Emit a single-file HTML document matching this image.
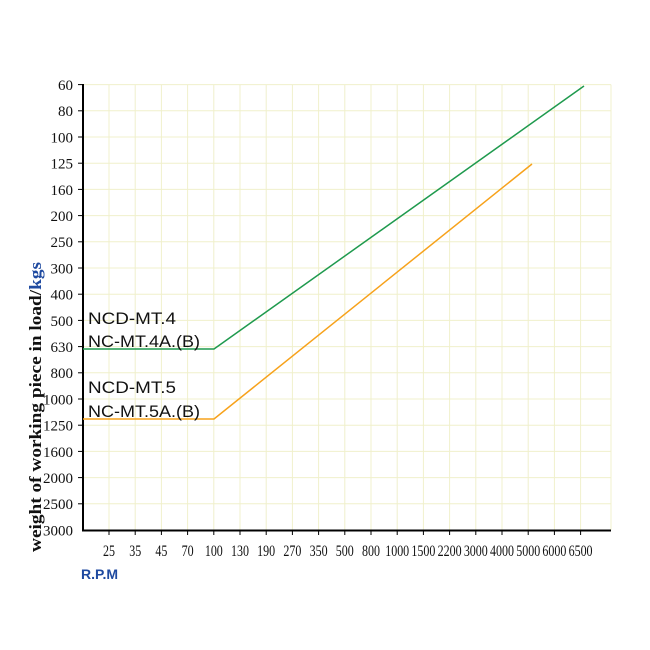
<!DOCTYPE html>
<html><head><meta charset="utf-8"><style>body{margin:0;background:#fff}svg{display:block}</style></head><body>
<svg width="650" height="650" xmlns="http://www.w3.org/2000/svg">
<g stroke="#f0f0cc" stroke-width="1">
<line x1="83" y1="84.6" x2="611" y2="84.6"/>
<line x1="83" y1="110.8" x2="611" y2="110.8"/><line x1="83" y1="137" x2="611" y2="137"/><line x1="83" y1="163.2" x2="611" y2="163.2"/><line x1="83" y1="189.4" x2="611" y2="189.4"/><line x1="83" y1="215.6" x2="611" y2="215.6"/><line x1="83" y1="241.8" x2="611" y2="241.8"/><line x1="83" y1="268" x2="611" y2="268"/><line x1="83" y1="294.2" x2="611" y2="294.2"/><line x1="83" y1="320.4" x2="611" y2="320.4"/><line x1="83" y1="346.6" x2="611" y2="346.6"/><line x1="83" y1="372.8" x2="611" y2="372.8"/><line x1="83" y1="399" x2="611" y2="399"/><line x1="83" y1="425.2" x2="611" y2="425.2"/><line x1="83" y1="451.4" x2="611" y2="451.4"/><line x1="83" y1="477.6" x2="611" y2="477.6"/><line x1="83" y1="503.8" x2="611" y2="503.8"/>
<line x1="109" y1="84.6" x2="109" y2="530"/><line x1="135.2" y1="84.6" x2="135.2" y2="530"/><line x1="161.4" y1="84.6" x2="161.4" y2="530"/><line x1="187.6" y1="84.6" x2="187.6" y2="530"/><line x1="213.8" y1="84.6" x2="213.8" y2="530"/><line x1="240" y1="84.6" x2="240" y2="530"/><line x1="266.2" y1="84.6" x2="266.2" y2="530"/><line x1="292.4" y1="84.6" x2="292.4" y2="530"/><line x1="318.6" y1="84.6" x2="318.6" y2="530"/><line x1="344.8" y1="84.6" x2="344.8" y2="530"/><line x1="371" y1="84.6" x2="371" y2="530"/><line x1="397.2" y1="84.6" x2="397.2" y2="530"/><line x1="423.4" y1="84.6" x2="423.4" y2="530"/><line x1="449.6" y1="84.6" x2="449.6" y2="530"/><line x1="475.8" y1="84.6" x2="475.8" y2="530"/><line x1="502" y1="84.6" x2="502" y2="530"/><line x1="528.2" y1="84.6" x2="528.2" y2="530"/><line x1="554.4" y1="84.6" x2="554.4" y2="530"/><line x1="580.6" y1="84.6" x2="580.6" y2="530"/><line x1="611" y1="84.6" x2="611" y2="530"/>
</g>
<g stroke="#000" stroke-width="2">
<line x1="83" y1="84" x2="83" y2="531"/><line x1="82" y1="530.5" x2="611" y2="530.5"/>
</g>
<g stroke="#000" stroke-width="1">
<line x1="78" y1="84.6" x2="83" y2="84.6"/><line x1="78" y1="110.8" x2="83" y2="110.8"/><line x1="78" y1="137" x2="83" y2="137"/><line x1="78" y1="163.2" x2="83" y2="163.2"/><line x1="78" y1="189.4" x2="83" y2="189.4"/><line x1="78" y1="215.6" x2="83" y2="215.6"/><line x1="78" y1="241.8" x2="83" y2="241.8"/><line x1="78" y1="268" x2="83" y2="268"/><line x1="78" y1="294.2" x2="83" y2="294.2"/><line x1="78" y1="320.4" x2="83" y2="320.4"/><line x1="78" y1="346.6" x2="83" y2="346.6"/><line x1="78" y1="372.8" x2="83" y2="372.8"/><line x1="78" y1="399" x2="83" y2="399"/><line x1="78" y1="425.2" x2="83" y2="425.2"/><line x1="78" y1="451.4" x2="83" y2="451.4"/><line x1="78" y1="477.6" x2="83" y2="477.6"/><line x1="78" y1="503.8" x2="83" y2="503.8"/>
<line x1="109" y1="530" x2="109" y2="535"/><line x1="135.2" y1="530" x2="135.2" y2="535"/><line x1="161.4" y1="530" x2="161.4" y2="535"/><line x1="187.6" y1="530" x2="187.6" y2="535"/><line x1="213.8" y1="530" x2="213.8" y2="535"/><line x1="240" y1="530" x2="240" y2="535"/><line x1="266.2" y1="530" x2="266.2" y2="535"/><line x1="292.4" y1="530" x2="292.4" y2="535"/><line x1="318.6" y1="530" x2="318.6" y2="535"/><line x1="344.8" y1="530" x2="344.8" y2="535"/><line x1="371" y1="530" x2="371" y2="535"/><line x1="397.2" y1="530" x2="397.2" y2="535"/><line x1="423.4" y1="530" x2="423.4" y2="535"/><line x1="449.6" y1="530" x2="449.6" y2="535"/><line x1="475.8" y1="530" x2="475.8" y2="535"/><line x1="502" y1="530" x2="502" y2="535"/><line x1="528.2" y1="530" x2="528.2" y2="535"/><line x1="554.4" y1="530" x2="554.4" y2="535"/><line x1="580.6" y1="530" x2="580.6" y2="535"/>
</g>
<g font-family="Liberation Serif, serif" font-size="15" fill="#111" text-anchor="end">
<text x="73" y="90">60</text><text x="73" y="116.2">80</text><text x="73" y="142.4">100</text><text x="73" y="168.6">125</text><text x="73" y="194.8">160</text><text x="73" y="221">200</text><text x="73" y="247.2">250</text><text x="73" y="273.4">300</text><text x="73" y="299.6">400</text><text x="73" y="325.8">500</text><text x="73" y="352">630</text><text x="73" y="378.2">800</text><text x="73" y="404.4">1000</text><text x="73" y="430.6">1250</text><text x="73" y="456.8">1600</text><text x="73" y="483">2000</text><text x="73" y="509.2">2500</text><text x="73" y="535.4">3000</text>
</g>
<g font-family="Liberation Serif, serif" font-size="16" fill="#111" text-anchor="middle" transform="translate(0,556) scale(0.75,1)">
<text x="145.3" y="0">25</text><text x="180.3" y="0">35</text><text x="215.2" y="0">45</text><text x="250.1" y="0">70</text><text x="285.1" y="0">100</text><text x="320" y="0">130</text><text x="354.9" y="0">190</text><text x="389.9" y="0">270</text><text x="424.8" y="0">350</text><text x="459.7" y="0">500</text><text x="494.7" y="0">800</text><text x="529.6" y="0">1000</text><text x="564.5" y="0">1500</text><text x="599.5" y="0">2200</text><text x="634.4" y="0">3000</text><text x="669.3" y="0">4000</text><text x="704.3" y="0">5000</text><text x="739.2" y="0">6000</text><text x="774.1" y="0">6500</text>
</g>
<polyline points="83,349 214,349 584,86" fill="none" stroke="#1f9a4e" stroke-width="1.5"/>
<polyline points="83,419 214,419 532,164" fill="none" stroke="#f7a21b" stroke-width="1.5"/>
<g font-family="Liberation Sans, sans-serif" font-size="17" fill="#111">
<text x="88" y="324" textLength="88" lengthAdjust="spacingAndGlyphs">NCD-MT.4</text>
<text x="88" y="347" textLength="112" lengthAdjust="spacingAndGlyphs">NC-MT.4A.(B)</text>
<text x="88" y="393" textLength="88" lengthAdjust="spacingAndGlyphs">NCD-MT.5</text>
<text x="88" y="417" textLength="112" lengthAdjust="spacingAndGlyphs">NC-MT.5A.(B)</text>
</g>
<text x="81" y="579" font-family="Liberation Sans, sans-serif" font-weight="bold" font-size="14" fill="#1f4aa0">R.P.M</text>
<text transform="translate(41,407) rotate(-90)" text-anchor="middle" font-family="Liberation Serif, serif" font-weight="bold" font-size="17" fill="#111" textLength="290" lengthAdjust="spacingAndGlyphs">weight of working piece in load/<tspan fill="#1f4aa0">kgs</tspan></text>
</svg>
</body></html>
